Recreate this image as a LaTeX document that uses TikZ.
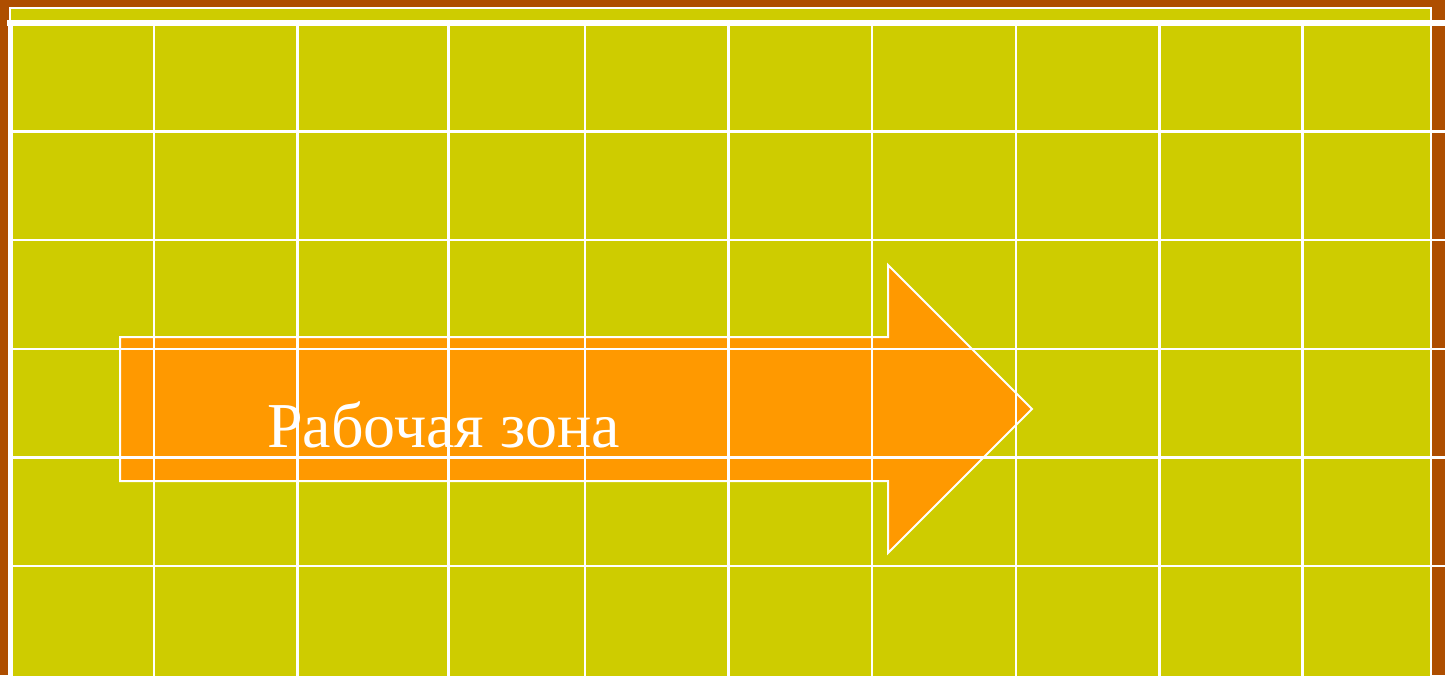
\documentclass[tikz,border=0pt]{standalone}
\usepackage{fontspec}
\setmainfont{Liberation Serif}
\definecolor{bgbrown}{HTML}{AE4E00}
\definecolor{fieldyellow}{HTML}{CECC00}
\definecolor{arroworange}{HTML}{FF9900}
\tikzset{
  gridline/.style={draw=white, line width=2.5pt},
  thickline/.style={draw=white, line width=6pt},
  arrowshape/.style={fill=arroworange, draw=white, line width=2pt},
  labeltext/.style={text=white, inner sep=0pt, font=\fontsize{64}{64}\selectfont},
}
\begin{document}
\begin{tikzpicture}[x=1pt,y=-1pt]
\useasboundingbox (0,0) rectangle (1445,675);
% background
\fill[bgbrown] (0,0) rectangle (1445,675);
% field
\filldraw[fill=fieldyellow, draw=white, line width=2pt] (9.5,8) rectangle (1431,680);
% arrow
\filldraw[arrowshape] (120,337) -- (888,337) -- (888,265) -- (1032,409) -- (888,553) -- (888,481) -- (120,481) -- cycle;
% grid
\draw[thickline] (7,23) -- (1445,23);
\draw[draw=white, line width=5.5pt] (10.5,20) -- (10.5,680);
\foreach \y in {131.3,240,349,457.5,566} {
  \draw[gridline] (13,\y) -- (1445,\y);
}
\foreach \x in {153.8,297.7,448.3,585,728.5,872,1016,1159.5,1302.5} {
  \draw[gridline] (\x,26) -- (\x,680);
}
% label
\node[labeltext, anchor=base west] (label) at (267,447) {Рабочая зона};
\end{tikzpicture}
\end{document}
